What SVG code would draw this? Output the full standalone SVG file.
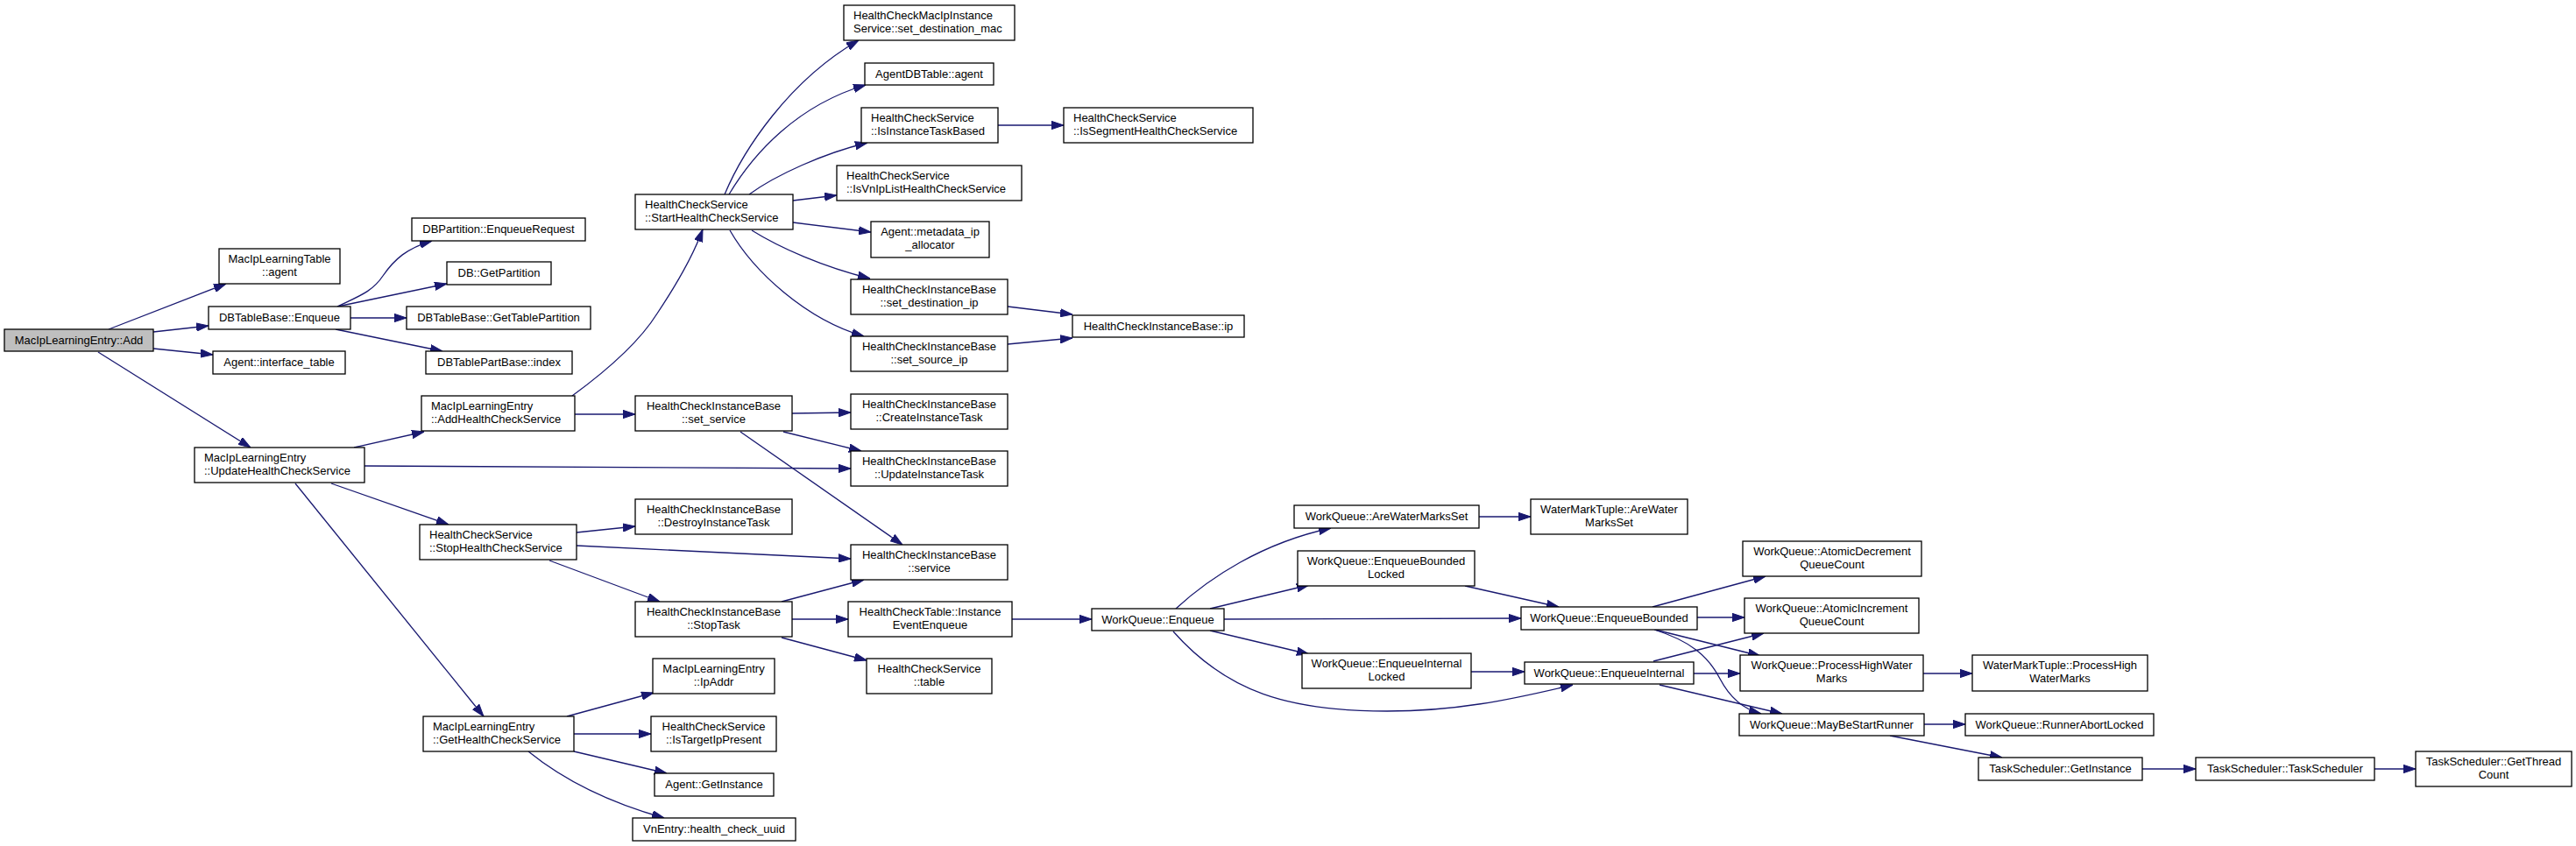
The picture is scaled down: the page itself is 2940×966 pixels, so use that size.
<svg xmlns="http://www.w3.org/2000/svg" width="2940" height="966" viewBox="0 0 2940 966">
<style>
.n rect{fill:#fff;stroke:#000;stroke-width:1.3}
.n.root rect{fill:#bfbfbf}
text{font-family:"Liberation Sans",Arial,Helvetica,sans-serif;font-size:13px;fill:#000}
.c{text-anchor:middle}
.e path{fill:none;stroke:#191970;stroke-width:1.3;marker-end:url(#a)}
</style>
<defs>
<marker id="a" markerUnits="userSpaceOnUse" viewBox="0 0 14 10" markerWidth="14" markerHeight="10" refX="14" refY="5" orient="auto">
<path d="M0,0.35 L14,5 L0,9.65 z" fill="#191970" stroke="#191970" stroke-width="1"/>
</marker>
</defs>
<rect width="2940" height="966" fill="#fff"/>
<g id="edges" class="e">
<path d="M124,376 L258,324"/>
<path d="M175,379 L238,372"/>
<path d="M175,398 L243,405"/>
<path d="M112,402 L286,511"/>
<path d="M385,350 C410,338 425,333 437,315 C450,296 465,283 493,275"/>
<path d="M385,350 L510,324"/>
<path d="M400,363 L464,363"/>
<path d="M383,376 L505,401"/>
<path d="M404,511 L484,493"/>
<path d="M416,532 L971,535"/>
<path d="M378,552 L512,599"/>
<path d="M337,552 L552,818"/>
<path d="M653,452 C690,425 730,390 750,358 C770,328 790,295 802,262"/>
<path d="M656,473 L725,473"/>
<path d="M658,608 L725,601"/>
<path d="M658,623 L971,638"/>
<path d="M627,640 L753,687"/>
<path d="M892,687 L986,662"/>
<path d="M904,707 L968,707"/>
<path d="M892,728 L989,754"/>
<path d="M904,472 L971,471"/>
<path d="M894,493 L983,515"/>
<path d="M845,493 L1030,622"/>
<path d="M1155,707 L1246,707"/>
<path d="M827,222 C848,172 900,92 980,46"/>
<path d="M832,222 C860,175 910,120 988,97"/>
<path d="M855,222 C885,200 940,175 990,163"/>
<path d="M905,229 L955,223"/>
<path d="M905,254 L994,265"/>
<path d="M858,263 C890,283 940,305 993,318"/>
<path d="M833,263 C860,310 920,365 986,384"/>
<path d="M1139,143 L1214,143"/>
<path d="M1150,350 L1224,359"/>
<path d="M1150,393 L1224,386"/>
<path d="M647,818 L746,791"/>
<path d="M655,838 L743,838"/>
<path d="M655,858 L761,883"/>
<path d="M603,858 C640,888 690,915 758,934"/>
<path d="M1342,695 C1380,660 1440,620 1519,603"/>
<path d="M1381,695 L1494,668"/>
<path d="M1397,707 L1736,706"/>
<path d="M1381,720 L1494,747"/>
<path d="M1339,721 C1400,790 1470,812 1583,812 C1660,812 1720,800 1795,782"/>
<path d="M1672,669 L1779,693"/>
<path d="M1679,767 L1740,767"/>
<path d="M1688,590 L1747,590"/>
<path d="M1886,693 L2015,658"/>
<path d="M1937,705 L1991,705"/>
<path d="M1889,719 L2009,749"/>
<path d="M1888,719 C1930,732 1950,750 1963,775 C1975,798 1990,810 2010,815"/>
<path d="M1887,755 L2013,723"/>
<path d="M1933,769 L1986,769"/>
<path d="M1894,782 L2034,815"/>
<path d="M2195,769 L2251,769"/>
<path d="M2196,827 L2243,827"/>
<path d="M2157,840 L2285,865"/>
<path d="M2445,878 L2506,878"/>
<path d="M2710,878 L2757,878"/>
</g>
<g id="n1" class="n root"><rect x="5" y="376" width="170" height="25"/><text class="c" x="90" y="392.5">MacIpLearningEntry::Add</text></g>
<g id="n2" class="n"><rect x="250" y="284" width="138" height="40"/><text class="c" x="319" y="299.8">MacIpLearningTable</text><text class="c" x="319" y="314.5">::agent</text></g>
<g id="n3" class="n"><rect x="238" y="350" width="162" height="26"/><text class="c" x="319" y="366.5">DBTableBase::Enqueue</text></g>
<g id="n4" class="n"><rect x="243" y="401" width="151" height="26"/><text class="c" x="318.5" y="417.5">Agent::interface_table</text></g>
<g id="n5" class="n"><rect x="470" y="249" width="198" height="26"/><text class="c" x="569" y="265.5">DBPartition::EnqueueRequest</text></g>
<g id="n6" class="n"><rect x="510" y="299" width="119" height="26"/><text class="c" x="569.5" y="315.5">DB::GetPartition</text></g>
<g id="n7" class="n"><rect x="464" y="350" width="210" height="26"/><text class="c" x="569" y="366.5">DBTableBase::GetTablePartition</text></g>
<g id="n8" class="n"><rect x="486" y="401" width="167" height="26"/><text class="c" x="569.5" y="417.5">DBTablePartBase::index</text></g>
<g id="n9" class="n"><rect x="481" y="452" width="175" height="40"/><text x="492" y="467.8">MacIpLearningEntry</text><text x="492" y="482.5">::AddHealthCheckService</text></g>
<g id="n10" class="n"><rect x="222" y="511" width="194" height="40"/><text x="233" y="526.8">MacIpLearningEntry</text><text x="233" y="541.5">::UpdateHealthCheckService</text></g>
<g id="n11" class="n"><rect x="479" y="599" width="179" height="40"/><text x="490" y="614.8">HealthCheckService</text><text x="490" y="629.5">::StopHealthCheckService</text></g>
<g id="n12" class="n"><rect x="483" y="818" width="172" height="40"/><text x="494" y="833.8">MacIpLearningEntry</text><text x="494" y="848.5">::GetHealthCheckService</text></g>
<g id="n13" class="n"><rect x="725" y="222" width="180" height="40"/><text x="736" y="237.8">HealthCheckService</text><text x="736" y="252.5">::StartHealthCheckService</text></g>
<g id="n14" class="n"><rect x="725" y="452" width="179" height="40"/><text class="c" x="814.5" y="467.8">HealthCheckInstanceBase</text><text class="c" x="814.5" y="482.5">::set_service</text></g>
<g id="n15" class="n"><rect x="725" y="570" width="179" height="40"/><text class="c" x="814.5" y="585.8">HealthCheckInstanceBase</text><text class="c" x="814.5" y="600.5">::DestroyInstanceTask</text></g>
<g id="n16" class="n"><rect x="725" y="687" width="179" height="40"/><text class="c" x="814.5" y="702.8">HealthCheckInstanceBase</text><text class="c" x="814.5" y="717.5">::StopTask</text></g>
<g id="n17" class="n"><rect x="745" y="752" width="139" height="40"/><text class="c" x="814.5" y="767.8">MacIpLearningEntry</text><text class="c" x="814.5" y="782.5">::IpAddr</text></g>
<g id="n18" class="n"><rect x="743" y="818" width="143" height="40"/><text class="c" x="814.5" y="833.8">HealthCheckService</text><text class="c" x="814.5" y="848.5">::IsTargetIpPresent</text></g>
<g id="n19" class="n"><rect x="747" y="883" width="136" height="26"/><text class="c" x="815" y="899.5">Agent::GetInstance</text></g>
<g id="n20" class="n"><rect x="722" y="934" width="186" height="26"/><text class="c" x="815" y="950.5">VnEntry::health_check_uuid</text></g>
<g id="n21" class="n"><rect x="963" y="6" width="195" height="40"/><text x="974" y="21.8">HealthCheckMacIpInstance</text><text x="974" y="36.5">Service::set_destination_mac</text></g>
<g id="n22" class="n"><rect x="987" y="72" width="147" height="25"/><text class="c" x="1060.5" y="88.5">AgentDBTable::agent</text></g>
<g id="n23" class="n"><rect x="983" y="123" width="156" height="40"/><text x="994" y="138.8">HealthCheckService</text><text x="994" y="153.5">::IsInstanceTaskBased</text></g>
<g id="n24" class="n"><rect x="955" y="189" width="211" height="40"/><text x="966" y="204.8">HealthCheckService</text><text x="966" y="219.5">::IsVnIpListHealthCheckService</text></g>
<g id="n25" class="n"><rect x="994" y="253" width="135" height="41"/><text class="c" x="1061.5" y="268.8">Agent::metadata_ip</text><text class="c" x="1061.5" y="283.5">_allocator</text></g>
<g id="n26" class="n"><rect x="971" y="319" width="179" height="40"/><text class="c" x="1060.5" y="334.8">HealthCheckInstanceBase</text><text class="c" x="1060.5" y="349.5">::set_destination_ip</text></g>
<g id="n27" class="n"><rect x="971" y="384" width="179" height="40"/><text class="c" x="1060.5" y="399.8">HealthCheckInstanceBase</text><text class="c" x="1060.5" y="414.5">::set_source_ip</text></g>
<g id="n28" class="n"><rect x="971" y="450" width="179" height="40"/><text class="c" x="1060.5" y="465.8">HealthCheckInstanceBase</text><text class="c" x="1060.5" y="480.5">::CreateInstanceTask</text></g>
<g id="n29" class="n"><rect x="971" y="515" width="179" height="40"/><text class="c" x="1060.5" y="530.8">HealthCheckInstanceBase</text><text class="c" x="1060.5" y="545.5">::UpdateInstanceTask</text></g>
<g id="n30" class="n"><rect x="971" y="622" width="179" height="40"/><text class="c" x="1060.5" y="637.8">HealthCheckInstanceBase</text><text class="c" x="1060.5" y="652.5">::service</text></g>
<g id="n31" class="n"><rect x="968" y="687" width="187" height="40"/><text class="c" x="1061.5" y="702.8">HealthCheckTable::Instance</text><text class="c" x="1061.5" y="717.5">EventEnqueue</text></g>
<g id="n32" class="n"><rect x="989" y="752" width="143" height="40"/><text class="c" x="1060.5" y="767.8">HealthCheckService</text><text class="c" x="1060.5" y="782.5">::table</text></g>
<g id="n33" class="n"><rect x="1214" y="123" width="216" height="40"/><text x="1225" y="138.8">HealthCheckService</text><text x="1225" y="153.5">::IsSegmentHealthCheckService</text></g>
<g id="n34" class="n"><rect x="1224" y="360" width="196" height="25"/><text class="c" x="1322" y="376.5">HealthCheckInstanceBase::ip</text></g>
<g id="n35" class="n"><rect x="1246" y="695" width="151" height="25"/><text class="c" x="1321.5" y="711.5">WorkQueue::Enqueue</text></g>
<g id="n36" class="n"><rect x="1477" y="577" width="211" height="26"/><text class="c" x="1582.5" y="593.5">WorkQueue::AreWaterMarksSet</text></g>
<g id="n37" class="n"><rect x="1747" y="570" width="179" height="40"/><text class="c" x="1836.5" y="585.8">WaterMarkTuple::AreWater</text><text class="c" x="1836.5" y="600.5">MarksSet</text></g>
<g id="n38" class="n"><rect x="1481" y="629" width="202" height="40"/><text class="c" x="1582" y="644.8">WorkQueue::EnqueueBounded</text><text class="c" x="1582" y="659.5">Locked</text></g>
<g id="n39" class="n"><rect x="1736" y="693" width="201" height="26"/><text class="c" x="1836.5" y="709.5">WorkQueue::EnqueueBounded</text></g>
<g id="n40" class="n"><rect x="1486" y="746" width="193" height="40"/><text class="c" x="1582.5" y="761.8">WorkQueue::EnqueueInternal</text><text class="c" x="1582.5" y="776.5">Locked</text></g>
<g id="n41" class="n"><rect x="1740" y="756" width="193" height="25"/><text class="c" x="1836.5" y="772.5">WorkQueue::EnqueueInternal</text></g>
<g id="n42" class="n"><rect x="1989" y="618" width="204" height="40"/><text class="c" x="2091" y="633.8">WorkQueue::AtomicDecrement</text><text class="c" x="2091" y="648.5">QueueCount</text></g>
<g id="n43" class="n"><rect x="1991" y="683" width="199" height="40"/><text class="c" x="2090.5" y="698.8">WorkQueue::AtomicIncrement</text><text class="c" x="2090.5" y="713.5">QueueCount</text></g>
<g id="n44" class="n"><rect x="1986" y="748" width="209" height="41"/><text class="c" x="2090.5" y="763.8">WorkQueue::ProcessHighWater</text><text class="c" x="2090.5" y="778.5">Marks</text></g>
<g id="n45" class="n"><rect x="1985" y="815" width="211" height="25"/><text class="c" x="2090.5" y="831.5">WorkQueue::MayBeStartRunner</text></g>
<g id="n46" class="n"><rect x="2251" y="748" width="200" height="41"/><text class="c" x="2351" y="763.8">WaterMarkTuple::ProcessHigh</text><text class="c" x="2351" y="778.5">WaterMarks</text></g>
<g id="n47" class="n"><rect x="2243" y="815" width="215" height="25"/><text class="c" x="2350.5" y="831.5">WorkQueue::RunnerAbortLocked</text></g>
<g id="n48" class="n"><rect x="2258" y="865" width="187" height="26"/><text class="c" x="2351.5" y="881.5">TaskScheduler::GetInstance</text></g>
<g id="n49" class="n"><rect x="2506" y="865" width="204" height="26"/><text class="c" x="2608" y="881.5">TaskScheduler::TaskScheduler</text></g>
<g id="n50" class="n"><rect x="2757" y="858" width="178" height="40"/><text class="c" x="2846" y="873.8">TaskScheduler::GetThread</text><text class="c" x="2846" y="888.5">Count</text></g>
</svg>
